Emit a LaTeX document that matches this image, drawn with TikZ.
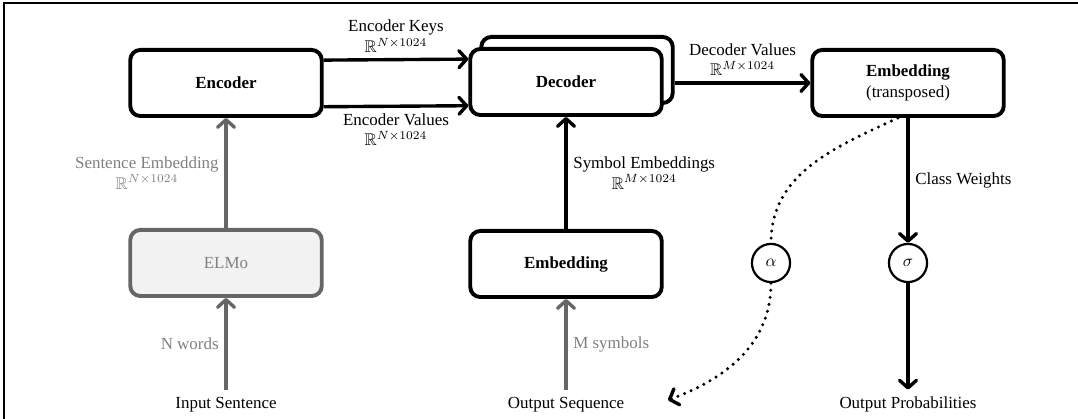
\documentclass[tikz,border=0pt]{standalone}
\usepackage{amssymb}
\usepackage{fontspec}
\setmainfont{Liberation Serif}
\usetikzlibrary{arrows.meta}
\begin{document}
\begin{tikzpicture}[x=0.59pt,y=-0.59pt,>={Straight Barb[length=4.5pt,width=10pt,round]},
    block/.style={draw,line width=2.3pt,rounded corners=6pt,minimum width=113pt,minimum height=39pt,fill=white,align=center},
    elmo/.style={block,draw=black!60,fill=black!5,text=black!50},
    io/.style={text height=1.6ex,text depth=0.3ex},
    flow/.style={->,line width=2pt},
    gflow/.style={flow,draw=black!60},
    glabel/.style={text=black!50,align=center},
    op/.style={draw,circle,line width=1.3pt,minimum size=22.5pt,inner sep=0pt},
    attn/.style={line width=2pt,line cap=round,dash pattern=on 0pt off 4.2pt}]
    \useasboundingbox (0,0) rectangle (1078,419);
    \draw[line width=0.6pt] (4,430) |- (1090,3);
    % boxes
    \node[block] (enc) at (226,83) {\textbf{Encoder}};
    \node[block] (decback) at (577,70) {};
    \node[block] (dec) at (566,82) {\textbf{Decoder}};
    \node[block] (embT) at (908,83) {\textbf{Embedding}\\(transposed)};
    \node[elmo] (elmo) at (226,263) {ELMo};
    \node[block] (emb) at (566,264) {\textbf{Embedding}};
    \node[op] (alpha) at (771,263) {$\alpha$};
    \node[op] (sigma) at (908,263) {$\sigma$};
    \node[io] (in) at (226,403) {Input Sentence};
    \node[io] (outseq) at (566,403) {Output Sequence};
    \node[io] (outprob) at (908,403) {Output Probabilities};
    \coordinate (seqend) at (668,400);
    % connections
    \draw[flow] ([yshift=13.5pt]enc.east) -- ([yshift=13.5pt]dec.west)
        node[midway,above,align=center] {Encoder Keys\\$\mathbb{R}^{N\times 1024}$};
    \draw[flow] ([yshift=-14pt]enc.east) -- ([yshift=-14pt]dec.west)
        node[midway,below,align=center] {Encoder Values\\$\mathbb{R}^{N\times 1024}$};
    \draw[flow] (decback.east |- embT.west) -- (embT.west)
        node[midway,above,align=center] {Decoder Values\\$\mathbb{R}^{M\times 1024}$};
    \draw[gflow] (elmo) -- (enc)
        node[midway,left,glabel] {Sentence Embedding\\$\mathbb{R}^{N\times 1024}$};
    \draw[gflow] (in) -- (elmo) node[midway,left,glabel] {N words};
    \draw[flow] (emb) -- (dec)
        node[midway,right,align=center] {Symbol Embeddings\\$\mathbb{R}^{M\times 1024}$};
    \draw[gflow] (outseq) -- (emb) node[midway,right,glabel] {M symbols};
    \draw[flow] (embT) -- (sigma) node[midway,right] {Class Weights};
    \draw[flow] (sigma) -- (outprob);
    \draw[attn] ([xshift=-6pt]embT.south) to[out=205,in=90] (alpha.north);
    \draw[attn,->] (alpha.south) to[out=-90,in=20] (seqend);
\end{tikzpicture}
\end{document}
